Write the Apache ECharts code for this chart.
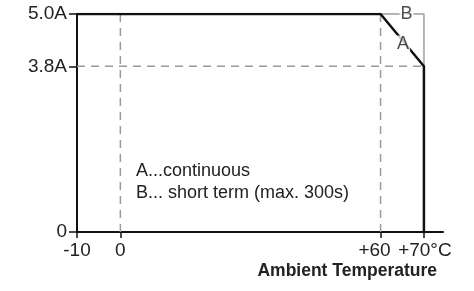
<!DOCTYPE html>
<html><head><meta charset="utf-8">
<script src="https://cdn.jsdelivr.net/npm/echarts@6/dist/echarts.min.js"></script>
<style>html,body{margin:0;padding:0;background:#fff}#c{width:474px;height:291px}</style>
</head><body><div id="c"></div>
<script>
// Derating curve (temperature °C, current A)
const curveA = [[-10, 5.0], [60, 5.0], [70, 3.8], [70, 0]];
const curveB = [[60, 5.0], [70, 5.0], [70, 3.8]];
const xTicks = [-10, 0, 60, 70];
const xTickLabels = ['-10', '0', '{l|+60}', '{r|+70°C}'];
const yTicks = [0, 3.8, 5.0];
const yTickLabels = ['0', '3.8A', '5.0A'];
const guideX = [0, 60];
const guideY = [3.8];
const labelA = [65.2, 4.3];
const labelB = [66, 5.0];

const FONT = '"Liberation Sans", Arial, sans-serif';
const chart = echarts.init(document.getElementById('c'), null, {renderer: 'canvas'});
const dashed = {color: '#9a9a9a', width: 1.5, type: [8, 6]};
const guides = [];
guideX.forEach(x => guides.push({type: 'line', data: [[x, 0], [x, 5]], lineStyle: dashed, symbol: 'none', silent: true, z: 1}));
guideY.forEach(y => guides.push({type: 'line', data: [[-10, y], [70, y]], lineStyle: dashed, symbol: 'none', silent: true, z: 1}));

chart.setOption({
  animation: false,
  grid: {left: 77, right: 31, top: 14, bottom: 59},
  xAxis: {
    type: 'value', min: -10, max: 74.4,
    splitLine: {show: false},
    axisLine: {onZero: false, lineStyle: {color: '#111', width: 2}},
    axisTick: {customValues: xTicks, length: 6, lineStyle: {color: '#111', width: 1.5}},
    axisLabel: {customValues: xTicks, color: '#222', fontFamily: FONT, fontSize: 19, margin: 9,
      formatter: v => xTickLabels[xTicks.indexOf(v)],
      rich: {
        l: {fontFamily: FONT, fontSize: 19, color: '#222', padding: [0, 12, 0, 0]},
        r: {fontFamily: FONT, fontSize: 19, color: '#222', padding: [0, 0, 0, 2]}
      }}
  },
  yAxis: {
    type: 'value', min: 0, max: 5,
    splitLine: {show: false},
    axisLine: {show: true, onZero: false, lineStyle: {color: '#111', width: 2}},
    axisTick: {show: true, customValues: yTicks, length: 8, lineStyle: {color: '#111', width: 1.5}},
    axisLabel: {customValues: yTicks, color: '#222', fontFamily: FONT, fontSize: 19, margin: 10,
      formatter: v => yTickLabels[yTicks.indexOf(v)]}
  },
  series: guides.concat([
    {type: 'line', data: curveB, symbol: 'none', lineStyle: {color: '#b5b5b5', width: 2}, z: 2},
    {type: 'line', data: curveA, symbol: 'none', lineStyle: {color: '#111', width: 2.5}, z: 3},
    {type: 'scatter', symbolSize: 0, z: 4,
      data: [{value: labelA, name: 'A'}, {value: labelB, name: 'B'}],
      label: {show: true, position: 'inside', formatter: p => p.name, color: '#222', fontFamily: FONT, fontSize: 18,
        backgroundColor: '#fff', padding: [0, 1]}}
  ]),
  graphic: [
    {type: 'text', left: 136, top: 160, style: {text: 'A...continuous\nB... short term (max. 300s)', fill: '#222', font: '18px ' + FONT, lineHeight: 22}},
    {type: 'text', right: 37, top: 262, style: {text: 'Ambient Temperature', fill: '#222', font: 'bold 17.5px ' + FONT}}
  ]
});
</script></body></html>
